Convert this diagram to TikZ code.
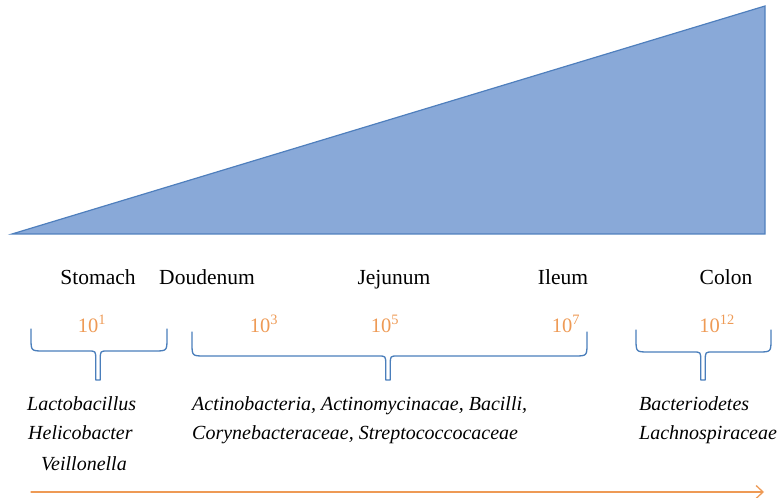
\documentclass[tikz,border=0pt]{standalone}
\usepackage{fontspec}
\setmainfont{Liberation Serif}
\usetikzlibrary{arrows.meta}
\definecolor{wedgefill}{HTML}{89A9D8}
\definecolor{wedgeline}{HTML}{4F7FBD}
\definecolor{braceblue}{HTML}{4A7EBB}
\definecolor{countorange}{HTML}{EE9A55}
\tikzset{
  site/.style={anchor=base, inner sep=0pt, font=\fontsize{21.5bp}{24bp}\selectfont},
  count/.style={anchor=base, inner sep=0pt, text=countorange, font=\fontsize{20.5bp}{24bp}\selectfont},
  taxon/.style={anchor=base west, inner sep=0pt, font=\fontsize{20bp}{24bp}\selectfont\itshape},
  brace/.style={draw=braceblue, line width=1.3bp, line join=round},
}
\begin{document}
\begin{tikzpicture}[x=1bp, y=-1bp, line cap=round]
\useasboundingbox (0,0) rectangle (777,498);
% density wedge
\coordinate (wl) at (12,234);
\coordinate (wt) at (765,6);
\coordinate (wr) at (765,234);
\filldraw[fill=wedgefill, draw=wedgeline, line width=1.2bp, line join=miter] (wl) -- (wt) -- (wr) -- cycle;
% sites along the gut
\foreach \n/\x/\t in {stomach/98/Stomach, duodenum/207/Doudenum, jejunum/394/Jejunum, ileum/563/Ileum, colon/726/Colon}
  {\node[site] (\n) at (\x,285) {\t};}
% bacterial counts
\foreach \n/\x/\e in {c1/92/1, c3/264/3, c5/385/5, c7/566/7, c12/717/12}
  {\node[count] (\n) at (\x,332) {10\textsuperscript{\e}};}
% braces: left/stem/right/top/bar
\foreach \l/\c/\r/\t/\h in {31/98/167/329/351, 192/388/587/332/356, 636/703/771/330/352}
  {\draw[brace] (\l,\t) -- (\l,\h-13) .. controls (\l,\h) .. (\l+13,\h) -- (\c-10,\h)
     .. controls (\c-2.3,\h) .. (\c-2.3,\h+8) -- (\c-2.3,380) -- (\c+2.3,380) -- (\c+2.3,\h+8)
     .. controls (\c+2.3,\h) .. (\c+10,\h) -- (\r-13,\h) .. controls (\r,\h) .. (\r,\h-13) -- (\r,\t);}
% taxa
\node[taxon] (lacto) at (27,410) {Lactobacillus};
\node[taxon] (helico) at (28,439) {Helicobacter};
\node[taxon] (veill) at (41,470) {Veillonella};
\node[taxon] (actino) at (192,410) {Actinobacteria, Actinomycinacae, Bacilli,};
\node[taxon] (coryne) at (192,439) {Corynebacteraceae, Streptococcocaceae};
\node[taxon] (bacter) at (639,410) {Bacteriodetes};
\node[taxon] (lachno) at (639,439) {Lachnospiraceae};
% direction along the tract
\coordinate (gutstart) at (31,492);
\coordinate (gutend) at (764,492);
\draw[countorange, line width=1.3bp, -{Straight Barb[length=7bp, width=13bp]}] (gutstart) -- (gutend);
\end{tikzpicture}
\end{document}
